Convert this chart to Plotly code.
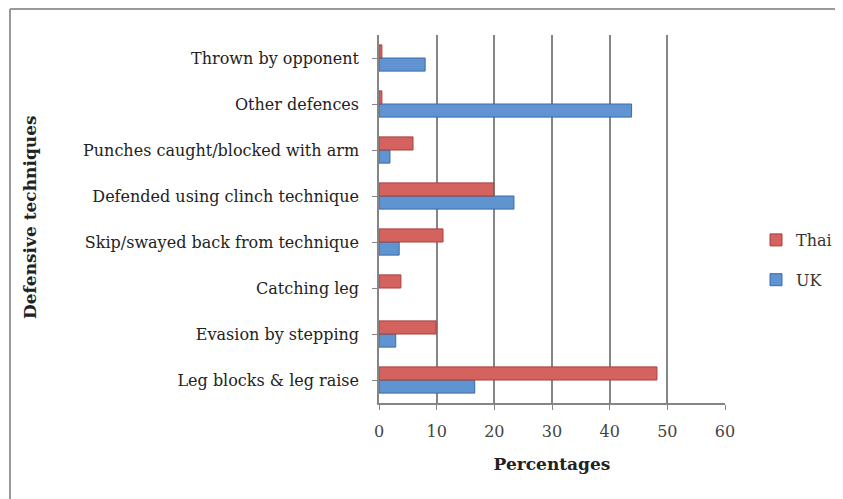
import plotly.graph_objects as go

categories = ["Leg blocks & leg raise", "Evasion by stepping", "Catching leg",
              "Skip/swayed back from technique", "Defended using clinch technique",
              "Punches caught/blocked with arm", "Other defences", "Thrown by opponent"]
thai = [48.2, 9.9, 3.8, 11.1, 19.9, 5.9, 0.5, 0.5]
uk = [16.6, 2.9, 0.0, 3.5, 23.4, 1.9, 43.8, 8.0]
x_ticks = [0, 10, 20, 30, 40, 50, 60]

FONT = "DejaVu Serif"
OFF = 8  # page body margin
W, H = 843 - OFF, 499 - OFF
L, R, T, B = 379 - OFF, 843 - 725, 35 - OFF, 499 - 403
pw, ph = W - L - R, H - T - B


def px_x(p):  # screen pixel -> paper
    return (p - OFF - L) / pw


def px_y(p):
    return (H - B - (p - OFF)) / ph


def outline(vals):
    return [1 if v > 0 else 0 for v in vals]


fig = go.Figure()
fig.add_trace(go.Bar(y=categories, x=uk, name="UK", orientation="h",
                     marker=dict(color="#5f94d0", line=dict(color="#3a6aa8", width=outline(uk))),
                     legendgroup="uk", legendrank=2))
fig.add_trace(go.Bar(y=categories, x=thai, name="Thai", orientation="h",
                     marker=dict(color="#d4625e", line=dict(color="#a8403d", width=outline(thai))),
                     legendgroup="thai", legendrank=1))

fig.update_layout(
    width=W, height=H,
    margin=dict(l=L, r=R, t=T, b=B, autoexpand=False),
    paper_bgcolor="white", plot_bgcolor="white",
    barmode="group", bargap=0.43, bargroupgap=0.0,
    font=dict(family=FONT, size=16, color="#222"),
    showlegend=True,
    legend=dict(x=px_x(756), y=px_y(223), xanchor="left", yanchor="top",
                traceorder="grouped", tracegroupgap=16,
                font=dict(family=FONT, size=16, color="#333"),
                itemwidth=30, bgcolor="rgba(0,0,0,0)"),
    xaxis=dict(range=[0, 60], tickvals=x_ticks, ticktext=[str(v) for v in x_ticks],
               showgrid=True, gridcolor="#858585", gridwidth=1.5,
               showline=True, linecolor="#858585", linewidth=1.5,
               ticks="outside", ticklen=5, tickcolor="#858585", zeroline=False,
               ticklabelstandoff=8,
               tickfont=dict(family=FONT, size=16, color="#444"),
               title=dict(text="<b>Percentages</b>", font=dict(family=FONT, size=17, color="#222"),
                          standoff=18)),
    yaxis=dict(showgrid=False, showline=True, linecolor="#858585", linewidth=1.5,
               ticks="outside", ticklen=5, tickcolor="#858585",
               ticklabelstandoff=10,
               tickfont=dict(family=FONT, size=16, color="#222")),
)

fig.add_annotation(text="<b>Defensive techniques</b>", xref="paper", yref="paper",
                   x=px_x(30), y=px_y(217), textangle=-90, showarrow=False,
                   xanchor="center", yanchor="middle",
                   font=dict(family=FONT, size=17, color="#222"))

# chart border (left and top visible)
fig.add_shape(type="line", xref="paper", yref="paper",
              x0=px_x(10), x1=px_x(900), y0=px_y(9), y1=px_y(9),
              line=dict(color="#999", width=2))
fig.add_shape(type="line", xref="paper", yref="paper",
              x0=px_x(10), x1=px_x(10), y0=px_y(9), y1=px_y(560),
              line=dict(color="#999", width=2))

fig.write_html("out.html")
